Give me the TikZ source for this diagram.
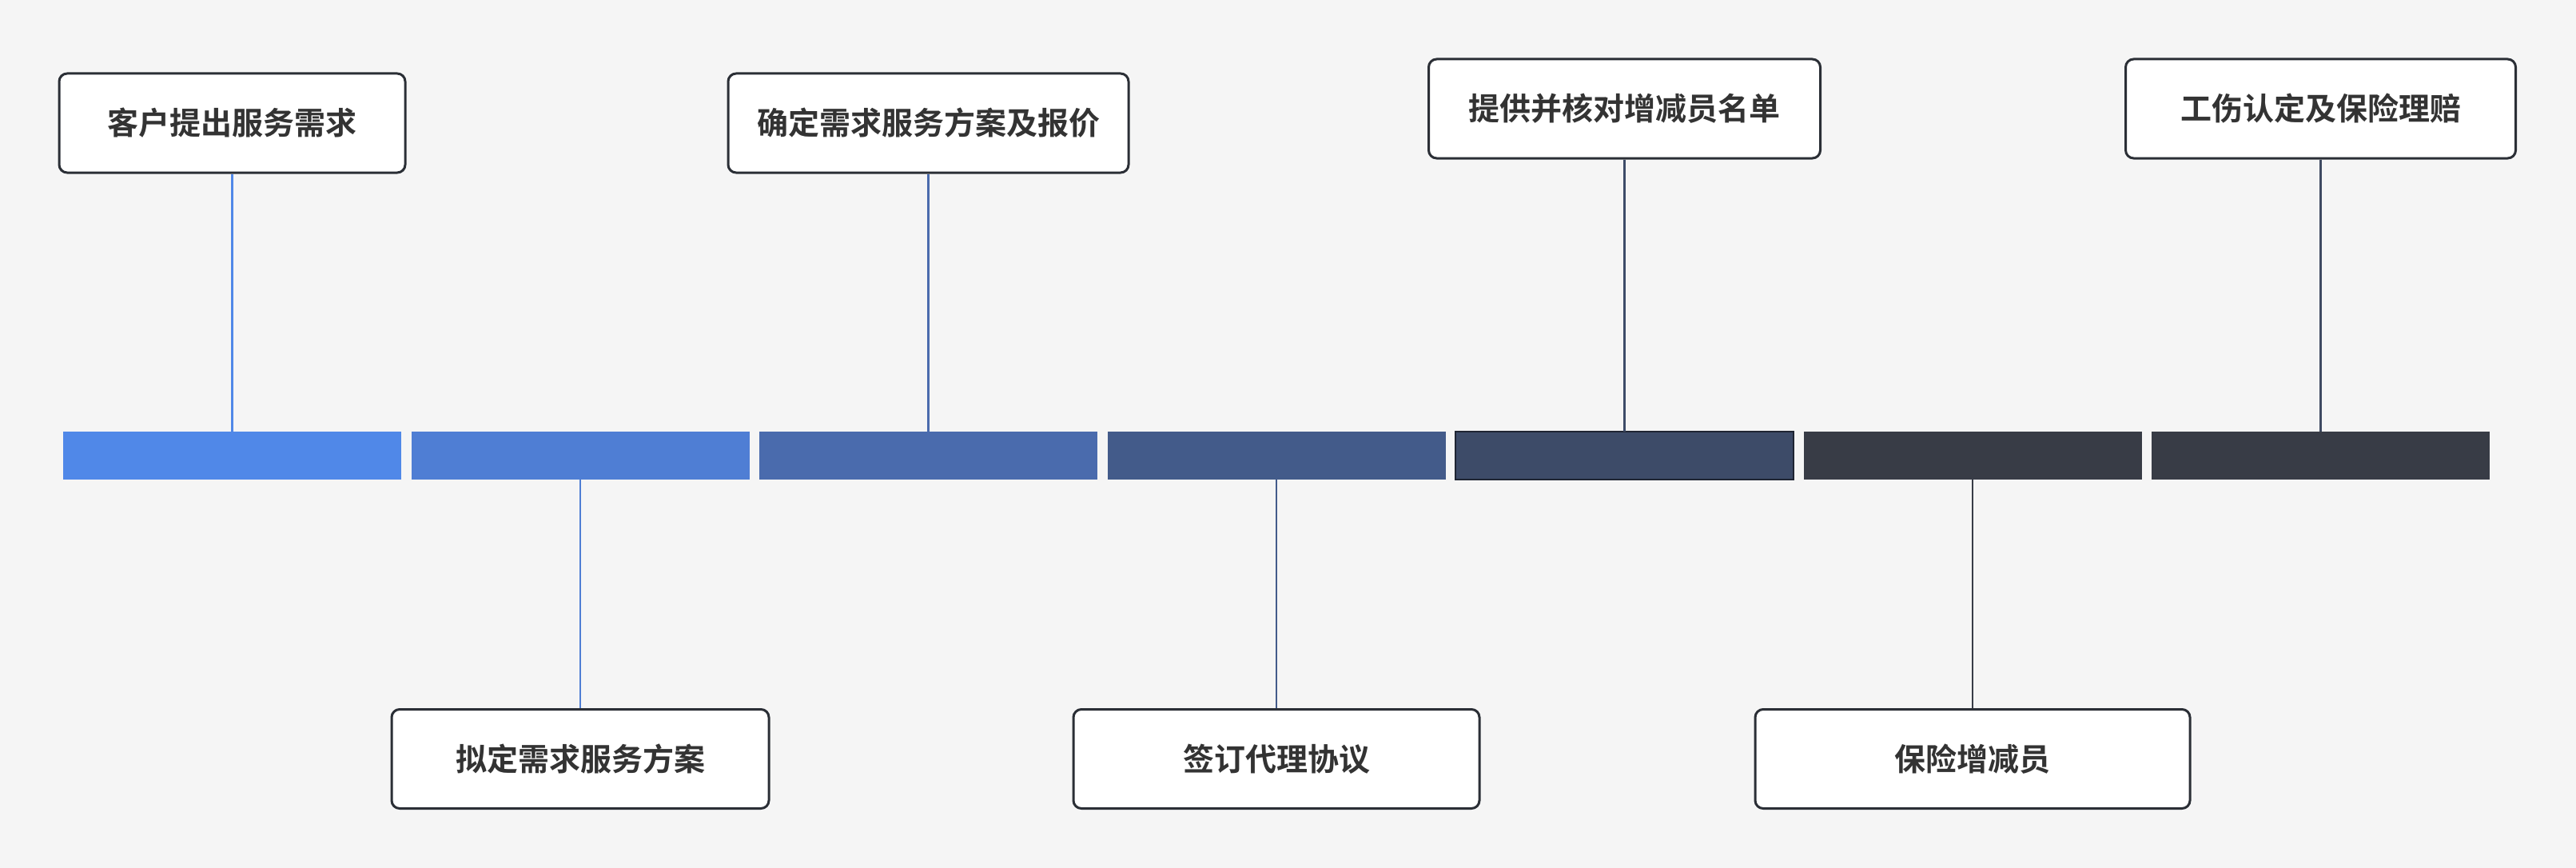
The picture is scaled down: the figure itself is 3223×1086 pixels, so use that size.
\documentclass[tikz,border=0pt]{standalone}
\usepackage{fontspec}
\newfontfamily\cjk{Noto Sans CJK SC}[BoldFont={Noto Sans CJK SC Bold}]
\definecolor{bg}{HTML}{F5F5F5}
\definecolor{boxline}{HTML}{2B2F36}
\definecolor{txt}{HTML}{333333}
\definecolor{c1}{HTML}{5088E8}
\definecolor{c2}{HTML}{4F7ED4}
\definecolor{c3}{HTML}{4A6BAD}
\definecolor{c4}{HTML}{435B8A}
\definecolor{c5}{HTML}{3D4B68}
\definecolor{c6}{HTML}{383C46}
\definecolor{c7}{HTML}{383C46}
\definecolor{l7}{HTML}{3F4A62}
\definecolor{selborder}{HTML}{1F2533}
\begin{document}
\begin{tikzpicture}[x=0.5pt,y=-0.5pt,
  box/.style={draw=boxline, line width=1.5pt, fill=white, rounded corners=5pt,
    font=\cjk\bfseries\fontsize{19.5}{21}\selectfont, text=txt,
    minimum height=62pt, inner sep=0pt},
  barbox/.style={draw=none, minimum width=211.5pt, minimum height=30pt, inner sep=0pt, outer sep=0pt},
  conn/.style={line width=1.4pt}]
\useasboundingbox (0,0) rectangle (3223,1086);
\fill[bg] (0,0) rectangle (3223,1086);
% bars
\node[barbox, fill=c1] (b1) at (290.5,570) {};
\node[barbox, fill=c2] (b2) at (726,570) {};
\node[barbox, fill=c3] (b3) at (1161.5,570) {};
\node[barbox, fill=c4] (b4) at (1597,570) {};
\node[barbox, fill=c5, draw=selborder, line width=1.2pt] (b5) at (2032.5,570) {};
\node[barbox, fill=c6] (b6) at (2468,570) {};
\node[barbox, fill=c7] (b7) at (2903.5,570) {};
% boxes
\node[box, minimum width=216.5pt] (t1) at (290.5,154) {客户提出服务需求};
\node[box, minimum width=236pt] (t2) at (726,949.5) {拟定需求服务方案};
\node[box, minimum width=250.5pt] (t3) at (1161.5,154) {确定需求服务方案及报价};
\node[box, minimum width=254pt] (t4) at (1597,949.5) {签订代理协议};
\node[box, minimum width=245pt] (t5) at (2032.5,136) {提供并核对增减员名单};
\node[box, minimum width=272pt] (t6) at (2468,949.5) {保险增减员};
\node[box, minimum width=244pt] (t7) at (2903.5,136) {工伤认定及保险理赔};
% connectors
\draw[conn, c1] (b1.north) -- (b1.north |- t1.south);
\draw[conn, c2] (b2.south) -- (b2.south |- t2.north);
\draw[conn, c3] (b3.north) -- (b3.north |- t3.south);
\draw[conn, c4] (b4.south) -- (b4.south |- t4.north);
\draw[conn, c5] (b5.north) -- (b5.north |- t5.south);
\draw[conn, c6] (b6.south) -- (b6.south |- t6.north);
\draw[conn, l7] (b7.north) -- (b7.north |- t7.south);
\end{tikzpicture}
\end{document}
